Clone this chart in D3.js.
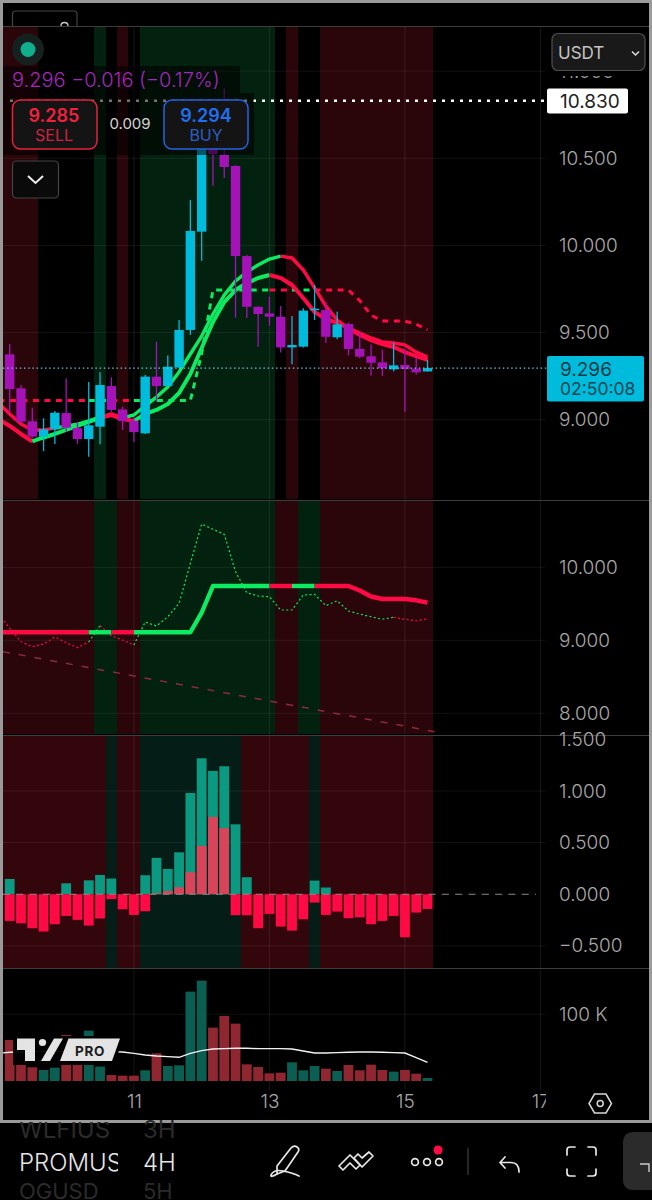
<!DOCTYPE html>
<html>
<head>
<meta charset="utf-8">
<title>PROMUSDT 4H</title>
<script src="https://cdn.jsdelivr.net/npm/d3@7"></script>
<style>
  html, body { margin: 0; padding: 0; background: #000; }
  svg { display: block; }
  text { font-family: Inter, "Noto Sans", sans-serif; }
  .price-axis text { fill: #a8a8a8; font-size: 19px; font-weight: 300; }
  .date-axis text { fill: #a8a8a8; font-size: 19px; font-weight: 300; }
  .axis path, .axis line { display: none; }
</style>
</head>
<body>
<div id="chart"></div>
<script>
// Candles, one entry per 4H bar
var opens = [9.375, 9.180, 8.991, 8.903, 8.945, 9.038, 8.952, 8.889, 8.960, 9.193, 9.059, 8.994, 8.922, 9.247, 9.193, 9.300, 9.515, 10.079, 10.650, 10.519, 10.456, 9.939, 9.648, 9.610, 9.591, 9.415, 9.419, 9.628, 9.629, 9.473, 9.549, 9.406, 9.364, 9.329, 9.289, 9.314, 9.293, 9.277];
var highs = [9.434, 9.199, 9.069, 9.008, 9.050, 9.237, 8.989, 9.216, 9.272, 9.243, 9.075, 9.017, 9.256, 9.448, 9.369, 9.572, 10.261, 10.830, 10.700, 10.900, 10.460, 9.945, 9.650, 9.706, 9.652, 9.595, 9.639, 9.773, 9.677, 9.620, 9.557, 9.505, 9.432, 9.400, 9.442, 9.409, 9.352, 9.343];
var lows = [9.040, 8.979, 8.893, 8.820, 8.861, 8.931, 8.861, 8.788, 8.859, 9.046, 8.941, 8.874, 8.918, 9.103, 9.190, 9.295, 9.486, 9.912, 10.343, 10.387, 9.585, 9.583, 9.419, 9.539, 9.385, 9.318, 9.415, 9.572, 9.442, 9.461, 9.369, 9.352, 9.253, 9.251, 9.277, 9.044, 9.260, 9.276];
var closes = [9.176, 8.989, 8.903, 8.945, 9.040, 8.954, 8.889, 8.968, 9.199, 9.056, 8.993, 8.929, 9.247, 9.193, 9.304, 9.515, 10.083, 10.650, 10.524, 10.450, 9.939, 9.648, 9.606, 9.591, 9.415, 9.429, 9.626, 9.637, 9.476, 9.547, 9.406, 9.362, 9.327, 9.295, 9.312, 9.291, 9.272, 9.296];

// Moving averages start one bar before the first candle (bar -1)
var maUpper = [9.096, 9.033, 8.975, 8.941, 8.941, 8.952, 8.964, 8.975, 8.993, 9.015, 9.033, 9.010, 9.027, 9.079, 9.130, 9.188, 9.274, 9.377, 9.480, 9.606, 9.715, 9.796, 9.847, 9.888, 9.922, 9.939, 9.928, 9.859, 9.756, 9.652, 9.572, 9.526, 9.497, 9.469, 9.446, 9.440, 9.429, 9.388, 9.360];
var maLower = [9.004, 8.964, 8.918, 8.875, 8.898, 8.918, 8.941, 8.964, 8.987, 9.010, 9.027, 9.004, 8.993, 9.033, 9.056, 9.090, 9.153, 9.262, 9.411, 9.561, 9.675, 9.744, 9.784, 9.813, 9.830, 9.813, 9.773, 9.698, 9.618, 9.578, 9.555, 9.526, 9.486, 9.457, 9.434, 9.417, 9.388, 9.365, 9.343];
var trendStop = [9.110, 9.110, 9.110, 9.110, 9.110, 9.110, 9.110, 9.110, 9.110, 9.110, 9.110, 9.110, 9.110, 9.110, 9.110, 9.110, 9.110, 9.110, 9.380, 9.744, 9.744, 9.744, 9.744, 9.744, 9.744, 9.744, 9.744, 9.744, 9.744, 9.744, 9.744, 9.744, 9.683, 9.600, 9.566, 9.566, 9.566, 9.548, 9.515];
var closeTrace = [9.360, 9.168, 8.981, 8.912, 8.949, 9.045, 8.967, 8.899, 8.977, 9.200, 9.063, 9.004, 8.936, 9.251, 9.196, 9.323, 9.507, 10.055, 10.593, 10.521, 10.452, 9.940, 9.652, 9.607, 9.597, 9.415, 9.415, 9.621, 9.630, 9.474, 9.542, 9.401, 9.360, 9.323, 9.288, 9.315, 9.288, 9.268, 9.292];

// Line colour per segment, same start as the lines: 1 green, 0 red
var maUpperUp = [0, 0, 0, 0, 0, 0, 1, 1, 1, 1, 0, 0, 1, 1, 1, 1, 1, 1, 1, 1, 1, 1, 1, 1, 1, 1, 0, 0, 0, 0, 0, 0, 0, 0, 0, 0, 0, 0, 0];
var maLowerUp = [0, 0, 0, 0, 1, 1, 1, 1, 1, 1, 0, 0, 0, 1, 1, 1, 1, 1, 1, 1, 1, 1, 1, 1, 1, 0, 0, 0, 0, 0, 0, 0, 0, 0, 0, 0, 0, 0, 0];
var trendStopUp = [0, 0, 0, 0, 0, 0, 0, 0, 0, 1, 1, 0, 0, 1, 1, 1, 1, 1, 1, 1, 1, 1, 1, 1, 1, 0, 0, 1, 1, 0, 0, 0, 0, 0, 0, 0, 0, 0, 0];
var closeTraceUp = [0, 0, 0, 0, 0, 0, 0, 0, 0, 1, 0, 0, 0, 1, 1, 1, 1, 1, 1, 1, 1, 1, 1, 1, 1, 1, 1, 1, 1, 1, 1, 1, 1, 1, 1, 1, 0, 0, 0];

// Falling support line in the middle pane, from bar -0.6 to bar 38.4
var supportBars = [-0.6, 38.4];
var supportValues = [8.844, 7.726];

// Histogram pane
var histUp = [0.148, 0, 0, 0, 0, 0.106, 0, 0.135, 0.187, 0.152, 0, 0, 0.184, 0.352, 0.245, 0.406, 0.981, 1.316, 1.194, 1.239, 0.677, 0.165, 0, 0, 0, 0, 0, 0.132, 0.065, 0, 0, 0, 0, 0, 0, 0, 0, 0];
var histInner = [0, 0, 0, 0, 0, 0, 0, 0, 0, 0, 0, 0, 0, 0.010, 0.032, 0.068, 0.213, 0.468, 0.748, 0.639, 0, 0, 0, 0, 0, 0, 0, 0, 0, 0, 0, 0, 0, 0, 0, 0, 0, 0];
var histDown = [-0.258, -0.281, -0.329, -0.361, -0.290, -0.210, -0.248, -0.303, -0.235, -0.048, -0.145, -0.200, -0.165, 0, 0, 0, 0, 0, 0, 0, -0.203, -0.203, -0.329, -0.190, -0.313, -0.352, -0.242, -0.081, -0.200, -0.168, -0.232, -0.223, -0.290, -0.258, -0.210, -0.416, -0.177, -0.142];

// Volume pane, in thousands
var volumes = [61.5, 30.5, 20.5, 16.5, 20, 69, 26.5, 75.5, 21.5, 9, 8, 8, 16, 41.5, 22.5, 23.5, 134, 150.5, 80, 97.5, 86, 25, 21, 11.5, 12.5, 28, 16, 22.5, 18.5, 15, 24, 16, 24.5, 16.5, 14, 16.5, 11, 4.5];
var volumeUp = [0, 0, 0, 1, 1, 0, 0, 1, 1, 0, 0, 0, 1, 0, 1, 1, 1, 1, 0, 0, 0, 0, 0, 0, 0, 1, 1, 1, 0, 1, 0, 0, 0, 0, 1, 0, 0, 1];
var volumeMa = [41.5, 43, 43.5, 44, 44, 44, 44, 44, 44, 44, 44, 43.5, 41.5, 39, 37.5, 36.5, 35.5, 41.5, 45.5, 48, 48.5, 49, 49, 48.5, 48.5, 48.5, 48, 45, 42, 42, 42.5, 43, 43.5, 43.5, 43, 42.5, 42, 35, 28];

// Background state of every bar per pane: 1 green, -1 red, 0 none
var pane1State = [-1, -1, -1, 0, 0, 0, 0, 0, 1, 0, -1, 0, 1, 1, 1, 1, 1, 1, 1, 1, 1, 1, 1, 1, 0, -1, 0, 0, -1, -1, -1, -1, -1, -1, -1, -1, -1, -1];
var pane2State = [-1, -1, -1, -1, -1, -1, -1, -1, 1, 1, -1, -1, 1, 1, 1, 1, 1, 1, 1, 1, 1, 1, 1, 1, -1, -1, 1, 1, -1, -1, -1, -1, -1, -1, -1, -1, -1, -1];
var pane3State = [-1, -1, -1, -1, -1, -1, -1, -1, -1, 1, -1, -1, 1, 1, 1, 1, 1, 1, 1, 1, 1, -1, -1, -1, -1, -1, -1, 1, -1, -1, -1, -1, -1, -1, -1, -1, -1, -1];

// Axis ticks and labels
var priceTicks = [11, 10.5, 10, 9.5, 9];
var midTicks = [10, 9, 8];
var histTicks = [1.5, 1, 0.5, 0, -0.5];
var volumeTicks = [100];
var dateBars = [11, 23, 35, 47];
var dateLabels = ["11", "13", "15", "17"];

var lastPrice = 9.296;
var highPrice = 10.83;

// Colours
var CYAN = "#00bcdc", PURPLE = "#a512b8", GREEN = "#0ceb62", RED = "#ff0a45";

var svgWidth = 652, svgHeight = 1200;
var plotLeft = 3, plotRight = 433, axisX = 545;

var svg = d3.select("#chart").append("svg")
  .attr("width", svgWidth)
  .attr("height", svgHeight);

var defs = svg.append("defs");
function addClip(id, x, y, w, h) {
  defs.append("clipPath").attr("id", id).append("rect")
    .attr("x", x).attr("y", y).attr("width", w).attr("height", h);
}
addClip("plot1", plotLeft, 27, 535, 472);
addClip("plot2", plotLeft, 501, 535, 233);
addClip("plot3", plotLeft, 736, 535, 232);
addClip("plot4", plotLeft, 969, 535, 121);
addClip("dates", 100, 1090, 446, 30);
addClip("sym", 0, 1122, 118, 78);

// Scales: bar index on x, one y scale per pane
var x = d3.scaleLinear().domain([0, 37]).range([9.7, 427.5]);
var barStep = x(1) - x(0);
var yPrice = d3.scaleLinear().domain([9, 10.5]).range([419.7, 158.3]);
var yMid = d3.scaleLinear().domain([8, 10]).range([713.3, 567.3]);
var yHist = d3.scaleLinear().domain([-0.5, 1.5]).range([945.9, 739.3]);
var yVol = d3.scaleLinear().domain([0, 100]).range([1081, 1014.3]);

var bars = d3.range(opens.length);

// Background bands
function drawBands(states, top, bottom, redFill, greenFill) {
  svg.append("g").selectAll("rect")
    .data(bars.filter(function(i) { return states[i] !== 0; }))
    .join("rect")
    .attr("x", function(i) { return i === 0 ? plotLeft : x(i - 0.5); })
    .attr("width", function(i) { return i === 0 ? x(0.5) - plotLeft : barStep; })
    .attr("y", top)
    .attr("height", bottom - top)
    .attr("shape-rendering", "crispEdges")
    .attr("fill", function(i) { return states[i] > 0 ? greenFill : redFill; });
}
drawBands(pane1State, 27, 499, "#2a0509", "#03210f");
drawBands(pane2State, 501, 734, "#2a050a", "#02210f");
drawBands(pane3State, 736, 968, "#33060c", "#041e17");

// Grid lines
function drawGrid(scale, ticks) {
  svg.append("g").selectAll("line")
    .data(ticks)
    .join("line")
    .attr("x1", plotLeft).attr("x2", axisX)
    .attr("y1", scale).attr("y2", scale)
    .attr("stroke", "rgba(255,255,255,0.07)");
}
drawGrid(yPrice, priceTicks);
drawGrid(yMid, midTicks);
drawGrid(yHist, histTicks.filter(function(t) { return t !== 0 && t !== 1.5; }));
drawGrid(yVol, volumeTicks);

svg.append("g").selectAll("line")
  .data(dateBars)
  .join("line")
  .attr("x1", x).attr("x2", x)
  .attr("y1", 27).attr("y2", 1090)
  .attr("stroke", "rgba(255,255,255,0.09)");

// Pane separators
svg.append("g").selectAll("line")
  .data([26, 500, 735, 968])
  .join("line")
  .attr("x1", plotLeft).attr("x2", svgWidth - 3)
  .attr("y1", function(d) { return d + 0.5; }).attr("y2", function(d) { return d + 0.5; })
  .attr("stroke", "#3d3d3d");

// Draws a series as runs of one colour, so that dashes keep going inside a run
function drawRuns(parent, values, ups, scale, width, dash) {
  var line = d3.line()
    .x(function(d) { return x(d.bar); })
    .y(function(d) { return scale(d.value); });
  var runs = [];
  values.forEach(function(v, n) {
    var point = { bar: n - 1, value: v };
    if (n === 0) return;
    var last = runs[runs.length - 1];
    if (last && last.up === ups[n]) {
      last.points.push(point);
    } else {
      runs.push({ up: ups[n], points: [{ bar: n - 2, value: values[n - 1] }, point] });
    }
  });
  parent.append("g").selectAll("path")
    .data(runs)
    .join("path")
    .attr("d", function(r) { return line(r.points); })
    .attr("fill", "none")
    .attr("stroke", function(r) { return r.up ? GREEN : RED; })
    .attr("stroke-width", width)
    .attr("stroke-dasharray", dash)
    .attr("stroke-linejoin", "round");
}

// Price pane
var pane1 = svg.append("g").attr("clip-path", "url(#plot1)");
drawRuns(pane1, trendStop, trendStopUp, yPrice, 3, "6 5.5");
drawRuns(pane1, maUpper, maUpperUp, yPrice, 3.4, null);
drawRuns(pane1, maLower, maLowerUp, yPrice, 4, null);

var candles = bars.map(function(i) {
  return { bar: i, open: opens[i], high: highs[i], low: lows[i], close: closes[i] };
});
var candleColor = function(d) { return d.close >= d.open ? CYAN : PURPLE; };

pane1.append("g").selectAll("line")
  .data(candles)
  .join("line")
  .attr("x1", function(d) { return x(d.bar); })
  .attr("x2", function(d) { return x(d.bar); })
  .attr("y1", function(d) { return yPrice(d.high); })
  .attr("y2", function(d) { return yPrice(d.low); })
  .attr("stroke", candleColor)
  .attr("stroke-width", 1.3);

pane1.append("g").selectAll("rect")
  .data(candles)
  .join("rect")
  .attr("x", function(d) { return x(d.bar) - 4.7; })
  .attr("width", 9.4)
  .attr("y", function(d) { return yPrice(Math.max(d.open, d.close)); })
  .attr("height", function(d) { return Math.max(1.5, Math.abs(yPrice(d.open) - yPrice(d.close))); })
  .attr("fill", candleColor);

// High and last price lines
svg.append("line")
  .attr("x1", 10).attr("x2", 547)
  .attr("y1", yPrice(highPrice)).attr("y2", yPrice(highPrice))
  .attr("stroke", "#fff").attr("stroke-width", 2.6).attr("stroke-dasharray", "3 6");
svg.append("line")
  .attr("x1", plotLeft).attr("x2", 547)
  .attr("y1", yPrice(lastPrice)).attr("y2", yPrice(lastPrice))
  .attr("stroke", "#62c8d8").attr("stroke-width", 1.2).attr("stroke-dasharray", "1.5 2.7");

// Middle pane
var pane2 = svg.append("g").attr("clip-path", "url(#plot2)");
var supportLine = d3.line()
  .x(function(d) { return x(d); })
  .y(function(d, i) { return yMid(supportValues[i]); });
pane2.append("path")
  .attr("d", supportLine(supportBars))
  .attr("fill", "none")
  .attr("stroke", "#8c2a3e")
  .attr("stroke-width", 1.5)
  .attr("stroke-dasharray", "7 9");
drawRuns(pane2, closeTrace, closeTraceUp, yMid, 1.2, "2 2.4");
drawRuns(pane2, trendStop, trendStopUp, yMid, 4.4, null);

// Histogram pane
var pane3 = svg.append("g").attr("clip-path", "url(#plot3)");
function drawHist(values, color) {
  pane3.append("g").selectAll("rect")
    .data(bars.filter(function(i) { return values[i] !== 0; }))
    .join("rect")
    .attr("x", function(i) { return x(i) - 4.9; })
    .attr("width", 9.8)
    .attr("y", function(i) { return Math.min(yHist(values[i]), yHist(0)); })
    .attr("height", function(i) { return Math.abs(yHist(values[i]) - yHist(0)); })
    .attr("fill", color);
}
drawHist(histUp, "#0b9981");
drawHist(histInner, "#d8455a");
drawHist(histDown, RED);

svg.append("line")
  .attr("x1", plotLeft).attr("x2", 536)
  .attr("y1", yHist(0)).attr("y2", yHist(0))
  .attr("stroke", "#8a8a8a").attr("stroke-width", 1.2).attr("stroke-dasharray", "7 6.3");

// Volume pane
var pane4 = svg.append("g").attr("clip-path", "url(#plot4)");
pane4.append("g").selectAll("rect")
  .data(bars)
  .join("rect")
  .attr("x", function(i) { return x(i) - 4.9; })
  .attr("width", 9.8)
  .attr("y", function(i) { return yVol(volumes[i]); })
  .attr("height", function(i) { return yVol(0) - yVol(volumes[i]); })
  .attr("fill", function(i) { return volumeUp[i] ? "#0b5f52" : "#8f2630"; });

var volumeLine = d3.line()
  .x(function(d, i) { return x(i - 1); })
  .y(function(d) { return yVol(d); });
pane4.append("path")
  .attr("d", volumeLine(volumeMa))
  .attr("fill", "none")
  .attr("stroke", "#f2f2f2")
  .attr("stroke-width", 1.4);

// TV PRO badge
var badge = svg.append("g").attr("transform", "translate(0,970)");
badge.append("path").attr("d", "M13 66H123L115 95H13Z").attr("fill", "#000").attr("opacity", 0.95);
badge.append("path").attr("d", "M17 68.5H35V91H25V80H17Z").attr("fill", "#e4e4e4");
badge.append("circle").attr("cx", 42.5).attr("cy", 72.5).attr("r", 3.6).attr("fill", "#e4e4e4");
badge.append("path").attr("d", "M54 68.5H63L50 91H41Z").attr("fill", "#e4e4e4");
badge.append("path").attr("d", "M68.5 68.5H120L112 91H60Z").attr("fill", "#e4e4e4");
badge.append("text").attr("x", 90).attr("y", 85.5).attr("text-anchor", "middle")
  .attr("font-size", 13.5).attr("font-weight", 700).attr("letter-spacing", 0.6).attr("fill", "#1c1c1c").text("PRO");

// Price axes on the right
function formatPrice(d) {
  return d3.format(".3f")(d).replace("-", "\u2212");
}
function drawPriceAxis(scale, ticks, format) {
  svg.append("g")
    .attr("class", "axis price-axis")
    .attr("transform", "translate(" + axisX + ",0)")
    .call(d3.axisRight(scale).tickValues(ticks).tickFormat(format).tickSize(0).tickPadding(14))
    .select(".domain").remove();
}
drawPriceAxis(yPrice, priceTicks, formatPrice);
drawPriceAxis(yMid, midTicks, formatPrice);
drawPriceAxis(yHist, histTicks, formatPrice);
drawPriceAxis(yVol, volumeTicks, function(d) { return d + " K"; });

// Date axis, clip on an outer group so the clip stays in page coordinates
svg.append("g")
  .attr("clip-path", "url(#dates)")
  .append("g")
  .attr("class", "axis date-axis")
  .attr("transform", "translate(0,1094)")
  .call(d3.axisBottom(x).tickValues(dateBars).tickFormat(function(d, i) { return dateLabels[i]; }).tickSize(0).tickPadding(0))
  .select(".domain").remove();

// Settings hexagon
svg.append("path")
  .attr("d", "M594.5 1094H606L611.5 1103.5L606 1113H594.5L589 1103.5Z")
  .attr("fill", "none").attr("stroke", "#d8d8d8").attr("stroke-width", 1.5);
svg.append("circle").attr("cx", 600.2).attr("cy", 1103.5).attr("r", 3)
  .attr("fill", "none").attr("stroke", "#d8d8d8").attr("stroke-width", 1.5);

// Last price and high labels
svg.append("rect").attr("x", 547).attr("y", 88.5).attr("width", 81).attr("height", 25).attr("rx", 2).attr("fill", "#fff");
svg.append("text").attr("x", 560).attr("y", 108).attr("font-size", 19).attr("fill", "#222").text(d3.format(".3f")(highPrice));
svg.append("rect").attr("x", 547).attr("y", 356).attr("width", 97).attr("height", 45.5).attr("rx", 2).attr("fill", CYAN);
svg.append("text").attr("x", 560).attr("y", 375.5).attr("font-size", 19).attr("fill", "#0a3a46").text(d3.format(".3f")(lastPrice));
svg.append("text").attr("x", 560).attr("y", 395).attr("font-size", 17.5).attr("fill", "#0a4554").text("02:50:08");

// USDT selector, sits on top of the 11.000 label
svg.append("rect").attr("x", 550).attr("y", 30).attr("width", 98).attr("height", 46).attr("fill", "#000");
svg.append("rect").attr("x", 552).attr("y", 33.5).attr("width", 93).attr("height", 37).attr("rx", 6)
  .attr("fill", "#191919").attr("stroke", "#4e4e4e").attr("stroke-width", 1.2);
svg.append("text").attr("x", 558).attr("y", 58.5).attr("font-size", 17).attr("fill", "#c4c4c4").text("USDT");
svg.append("path").attr("d", "M632 51.5L635.5 55L639 51.5").attr("fill", "none").attr("stroke", "#ddd").attr("stroke-width", 1.5);

// Top left quote panel
svg.append("rect").attr("x", plotLeft).attr("y", 66).attr("width", 237).attr("height", 27).attr("fill", "rgba(0,0,0,0.55)");
svg.append("rect").attr("x", plotLeft).attr("y", 93).attr("width", 251).attr("height", 62).attr("fill", "rgba(0,0,0,0.55)");
svg.append("circle").attr("cx", 28).attr("cy", 49.5).attr("r", 16).attr("fill", "#16211f");
svg.append("circle").attr("cx", 28).attr("cy", 49.5).attr("r", 7.5).attr("fill", "#0fae8d");
svg.append("text").attr("x", 12).attr("y", 87).attr("font-size", 20).attr("font-weight", 300).attr("fill", "#a526bd").text("9.296  \u22120.016 (\u22120.17%)");

svg.append("rect").attr("x", 12.5).attr("y", 100).attr("width", 84.5).attr("height", 49).attr("rx", 8)
  .attr("fill", "#141414").attr("stroke", "#e8203f").attr("stroke-width", 1.5);
svg.append("text").attr("x", 54).attr("y", 121.5).attr("text-anchor", "middle").attr("font-size", 18).attr("font-weight", 600).attr("fill", "#f2203f").text("9.285");
svg.append("text").attr("x", 54).attr("y", 141).attr("text-anchor", "middle").attr("font-size", 16).attr("fill", "#c9243f").text("SELL");
svg.append("text").attr("x", 130).attr("y", 129).attr("text-anchor", "middle").attr("font-size", 15).attr("fill", "#d4d4d4").text("0.009");
svg.append("rect").attr("x", 164).attr("y", 100).attr("width", 84).attr("height", 49).attr("rx", 8)
  .attr("fill", "#141414").attr("stroke", "#2463e0").attr("stroke-width", 1.5);
svg.append("text").attr("x", 206).attr("y", 121.5).attr("text-anchor", "middle").attr("font-size", 18).attr("font-weight", 600).attr("fill", "#1f6ff0").text("9.294");
svg.append("text").attr("x", 206).attr("y", 141).attr("text-anchor", "middle").attr("font-size", 16).attr("fill", "#2a5fc4").text("BUY");

svg.append("rect").attr("x", 12.5).attr("y", 161).attr("width", 46).attr("height", 37).attr("rx", 4)
  .attr("fill", "#0a0a0a").attr("stroke", "#444").attr("stroke-width", 1.2);
svg.append("path").attr("d", "M28 176L35.5 183L43 176").attr("fill", "none").attr("stroke", "#eee").attr("stroke-width", 2);

// Top strip with the cut off button
svg.append("rect").attr("x", plotLeft).attr("y", plotLeft).attr("width", svgWidth - 6).attr("height", 23).attr("fill", "#000");
svg.append("path").attr("d", "M12.5 26V14Q12.5 11 15.5 11H74Q77 11 77 14V26").attr("fill", "none").attr("stroke", "#444").attr("stroke-width", 1.2);
svg.append("path").attr("d", "M61 26Q61 22.5 64.5 22.5Q68 22.5 68 26").attr("fill", "none").attr("stroke", "#ccc").attr("stroke-width", 1.3);

// Window frame
svg.append("rect").attr("x", 1.5).attr("y", 1.5).attr("width", svgWidth - 3).attr("height", 1120)
  .attr("fill", "none").attr("stroke", "#9a9a9a").attr("stroke-width", 3);

// Bottom bar: symbol and interval wheels
var wheel = svg.append("g").attr("clip-path", "url(#sym)");
wheel.append("text").attr("x", 19).attr("y", 1138).attr("font-size", 24).attr("fill", "#2b2b2b").text("WLFIUS");
wheel.append("text").attr("x", 19).attr("y", 1171).attr("font-size", 24).attr("font-weight", 300).attr("fill", "#e6e6e6").text("PROMUS");
wheel.append("text").attr("x", 19).attr("y", 1199).attr("font-size", 22).attr("fill", "#2b2b2b").text("OGUSD");
svg.append("text").attr("x", 143).attr("y", 1138).attr("font-size", 24).attr("fill", "#2b2b2b").text("3H");
svg.append("text").attr("x", 143).attr("y", 1171).attr("font-size", 24).attr("font-weight", 300).attr("fill", "#e6e6e6").text("4H");
svg.append("text").attr("x", 143).attr("y", 1199).attr("font-size", 22).attr("fill", "#2b2b2b").text("5H");

// Toolbar icons
var icon = svg.append("g").attr("fill", "none").attr("stroke", "#e8e8e8").attr("stroke-width", 1.7)
  .attr("stroke-linecap", "round").attr("stroke-linejoin", "round");
icon.append("path").attr("d", "M277 1166L291 1148Q294 1145 297 1147Q300 1149 298 1152L285 1171L277 1174Z");
icon.append("path").attr("d", "M277 1174Q270 1178 271 1175Q274 1169 283 1171Q293 1173 299 1176");
icon.append("path").attr("d", "M339 1166L350 1155L360 1165L356 1169L350 1163L343 1170Z");
icon.append("path").attr("d", "M354 1158L358 1154L362 1158L369 1152L373 1156L362 1167Z");
icon.selectAll("circle.dot").data([415, 427, 439]).join("circle")
  .attr("cx", function(d) { return d; }).attr("cy", 1162).attr("r", 3.4);
icon.append("path").attr("d", "M505 1157L500 1162.5L505 1168M500 1162.5H511Q519 1162.5 519 1172");
icon.append("path").attr("d", "M567 1155V1150Q567 1147 570 1147H575M588 1147H593Q596 1147 596 1150V1155M596 1169V1173Q596 1176 593 1176H588M575 1176H570Q567 1176 567 1173V1169");
svg.append("circle").attr("cx", 438).attr("cy", 1150).attr("r", 4.5).attr("fill", RED);
svg.append("line").attr("x1", 468).attr("x2", 468).attr("y1", 1148).attr("y2", 1175).attr("stroke", "#333").attr("stroke-width", 1.5);
svg.append("path").attr("d", "M652 1132H634Q623 1132 623 1143V1180Q623 1190 634 1190H652Z").attr("fill", "#2b2b2b");
svg.append("path").attr("d", "M640 1164H649V1172").attr("fill", "none").attr("stroke", "#ccc").attr("stroke-width", 1.4);
</script>
</body>
</html>
